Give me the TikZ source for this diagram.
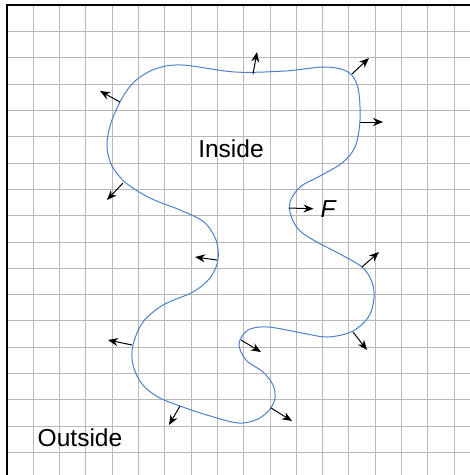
\documentclass[tikz,border=0pt]{standalone}
\usepackage{fontspec}
\setmainfont{Liberation Sans}
\usepackage{tikz}
\usetikzlibrary{positioning, arrows.meta}

\definecolor{blobblue}{RGB}{76,127,204}
\definecolor{gridgray}{RGB}{184,184,184}

\begin{document}
\begin{tikzpicture}[
  x=0.75pt, y=-0.75pt,
  gridline/.style={draw=gridgray, line width=0.75pt},
  frame/.style={draw=black, line width=1.5pt},
  blob/.style={draw=blobblue, line width=0.75pt},
  vec/.style={-{Stealth[length=7.5pt, width=6pt]}, line width=0.75pt},
  lbl/.style={font=\fontsize{18.4}{22}\selectfont, inner sep=0pt}
]
  \useasboundingbox (0,0) rectangle (470,475);

  % grid
  \begin{scope}
    \clip (0,0) rectangle (470,475);
    \foreach \k in {1,...,17} {
      \draw[gridline] ({7+26.3*\k},5) -- ({7+26.3*\k},475);
      \draw[gridline] (7,{5.3+26.3*\k}) -- (470,{5.3+26.3*\k});
    }
  \end{scope}
  \draw[frame] (7,475) -- (7,5) -- (470,5);

  % boundary
  \draw[blob] plot[smooth cycle, tension=0.55] coordinates {
    (182,65) (235,72) (285,71) (325,67) (348,72) (358,88) (360,120)
    (355,147) (342,163) (320,176) (300,187) (290,202) (291,216) (299,230)
    (315,241) (338,253) (362,267) (372,282) (374,298) (369,316) (353,331)
    (328,337) (302,333) (268,327) (248,330) (239,344) (246,360) (263,372)
    (273,385) (275,398) (270,409) (258,419) (238,423) (207,415) (180,406)
    (158,397) (142,384) (133,365) (133,345) (143,322) (163,305) (193,292)
    (210,278) (218,260) (216,240) (204,222) (180,210) (150,198) (126,183)
    (112,166) (107,147) (110,126) (120,102) (134,82) (155,69)
  };

  % normals
  \foreach \ax/\ay/\bx/\by in {120/102/100/91, 123/183/107/200, 253/74/257/52,
                     352/74/369/58, 360/122/383/122, 362/267/379/252,
                     353/332/367/350, 241/340/261/352, 271/408/292/421,
                     217/260/195/257, 132/345/108/340, 180/406/169/425}
    \draw[vec] (\ax,\ay) -- (\bx,\by);

  \node[lbl] (inside) at (231,149) {Inside};
  \node[lbl] (outside) at (80,438) {Outside};
  \node[lbl, font=\fontsize{18.4}{22}\selectfont\itshape] (force) at (328,209) {F};
  \coordinate (fbase) at (289,208);
  \draw[vec, shorten >=5pt] (fbase) -- (force.west);
\end{tikzpicture}
\end{document}
